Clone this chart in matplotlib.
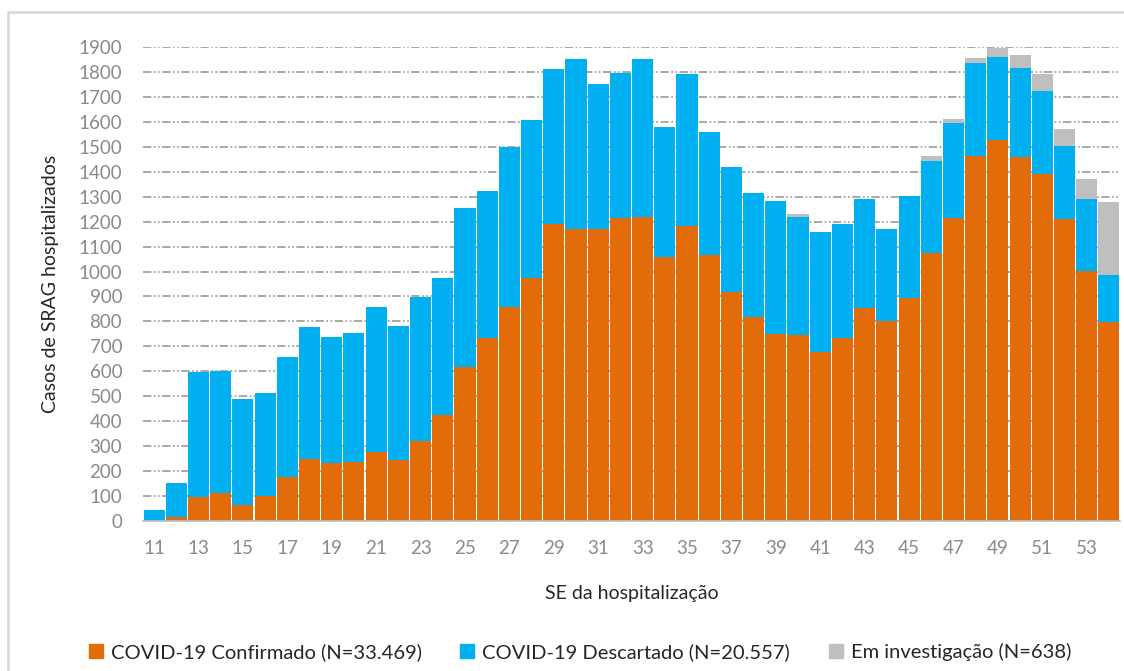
import numpy as np
import matplotlib.pyplot as plt
from matplotlib.patches import Rectangle, Patch

# semanas epidemiológicas 11..54
semanas = np.arange(11, 55)

confirmado = [0, 15, 95, 111, 64, 100, 178, 247, 234, 238, 278, 244, 321, 425, 616,
              732, 859, 973, 1190, 1170, 1170, 1213, 1217, 1059, 1182, 1066, 917, 819,
              748, 745, 679, 732, 852, 803, 893, 1075, 1213, 1463, 1527, 1460, 1391,
              1209, 1003, 796]
descartado = [44, 136, 503, 491, 424, 412, 478, 529, 505, 517, 578, 539, 578, 548, 637,
              592, 639, 634, 622, 680, 580, 584, 635, 521, 608, 492, 503, 497,
              535, 472, 481, 457, 437, 367, 410, 369, 384, 374, 334, 354, 332,
              294, 287, 190]
investigacao = [0] * 29 + [13, 0, 0, 0, 0, 0, 19, 13, 20, 33, 54, 67, 68, 79, 294]

rotulos_legenda = ['COVID-19 Confirmado (N=33.469)',
                   'COVID-19 Descartado (N=20.557)',
                   'Em investigação (N=638)']

cor_conf = '#E36C0A'
cor_desc = '#00B0F0'
cor_inv = '#BFBFBF'

plt.rcParams['font.family'] = ['Lato', 'DejaVu Sans']

fig = plt.figure(figsize=(11.24, 6.71), dpi=100)
ax = fig.add_axes([143 / 1124, 150 / 671, 977 / 1124, 474 / 671])

conf = np.array(confirmado)
desc = np.array(descartado)
inv = np.array(investigacao)

ax.bar(semanas, conf, width=0.95, color=cor_conf, zorder=2)
ax.bar(semanas, desc, width=0.95, bottom=conf, color=cor_desc, zorder=2)
ax.bar(semanas, inv, width=0.95, bottom=conf + desc, color=cor_inv, zorder=2)

ax.set_xlim(10.5, 54.5)
ax.set_ylim(0, 1900)
ax.set_yticks(np.arange(0, 2000, 100))
ax.set_xticks(np.arange(11, 55, 2))

ax.yaxis.grid(True, color='#9A9A9A', linewidth=1.2, dashes=(5, 1.5, 1, 1.5, 1, 1.5), zorder=0)
ax.set_axisbelow(True)

for s in ['top', 'right', 'left']:
    ax.spines[s].set_visible(False)
ax.spines['bottom'].set_color('#BFBFBF')
ax.spines['bottom'].set_linewidth(1.2)
ax.tick_params(axis='both', length=0, labelsize=13.5, labelcolor='#8A8A8A')
ax.tick_params(axis='y', pad=15)
ax.tick_params(axis='x', pad=14)

ax.set_xlabel('SE da hospitalização', fontsize=14, color='#262626', labelpad=20)
ax.set_ylabel('Casos de SRAG hospitalizados', fontsize=14, color='#262626', labelpad=14)

handles = [Patch(color=cor_conf), Patch(color=cor_desc), Patch(color=cor_inv)]
fig.legend(handles, rotulos_legenda, loc='center', bbox_to_anchor=(0.516, 19 / 671),
           ncol=3, frameon=False, fontsize=14.5, handlelength=0.7, handleheight=0.7,
           handletextpad=0.4, columnspacing=1.9, labelcolor='#262626')

# moldura cinza clara à volta do gráfico
fig.patches.append(Rectangle((8 / 1124, -0.05), 1.1, (671 - 12) / 671 + 0.05,
                             transform=fig.transFigure, fill=False,
                             edgecolor='#D9D9D9', linewidth=2))

fig.savefig('out.png', dpi=100)
